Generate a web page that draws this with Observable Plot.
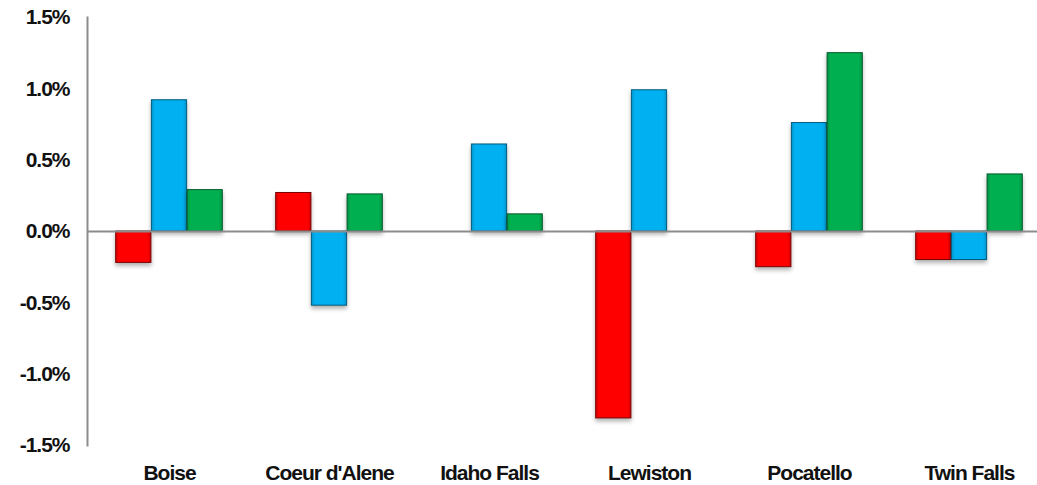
<!DOCTYPE html>
<html>
<head>
<meta charset="utf-8">
<script src="https://cdn.jsdelivr.net/npm/d3@7"></script>
<script src="https://cdn.jsdelivr.net/npm/@observablehq/plot@0.6"></script>
<style>
  html, body { margin: 0; padding: 0; background: #fff; }
  #chart { width: 1037px; height: 485px; overflow: hidden; }
</style>
</head>
<body>
<div id="chart"></div>
<script>
const cities = ["Boise", "Coeur d'Alene", "Idaho Falls", "Lewiston", "Pocatello", "Twin Falls"];
const seriesNames = ["Series 1", "Series 2", "Series 3"];
const series1 = [-0.0022, 0.0027, 0, -0.0131, -0.0025, -0.0020];
const series2 = [0.0092, -0.0052, 0.0061, 0.0099, 0.0076, -0.0020];
const series3 = [0.0029, 0.0026, 0.0012, 0, 0.0125, 0.0040];
const yTicks = [-0.015, -0.01, -0.005, 0, 0.005, 0.01, 0.015];

const seriesValues = [series1, series2, series3];
const fills = ["#FF0000", "#00B0F0", "#00B050"];
const strokes = ["#7a0000", "#005a7e", "#005a2c"];
const offsets = [-35.7, 0, 35.7];

const rows = seriesValues.map((vals, i) =>
  cities.map((c, j) => ({city: c, series: seriesNames[i], value: vals[j]})).filter(d => d.value !== 0)
);

const fmt = d => d3.format(".1%")(d).replace("\u2212", "-");

const barMarks = rows.map((data, i) => Plot.barY(data, {
  x: "city",
  y: "value",
  fill: `url(#grad${i})`,
  stroke: strokes[i],
  strokeWidth: 1,
  dx: offsets[i],
  insetLeft: 62.4,
  insetRight: 62.4
}));

const chart = Plot.plot({
  width: 1037,
  height: 485,
  marginTop: 17,
  marginBottom: 40,
  marginLeft: 87,
  marginRight: 0,
  style: {
    fontFamily: "'Liberation Sans', Arial, sans-serif",
    fontSize: "21px",
    fontWeight: "bold",
    letterSpacing: "-1px",
    color: "#111",
    background: "#fff",
    overflow: "visible"
  },
  x: {type: "band", domain: cities, range: [87, 1050], padding: 0},
  y: {domain: [-0.015, 0.015]},
  marks: [
    Plot.axisY({ticks: yTicks, tickFormat: fmt, tickSize: 0, tickPadding: 18, label: null}),
    Plot.axisX({tickSize: 0, tickPadding: 20, label: null}),
    ...barMarks,
    Plot.ruleY([0], {stroke: "#8c8c8c", strokeWidth: 2}),
    Plot.frame({anchor: "left", stroke: "#8c8c8c", strokeWidth: 2})
  ]
});

// gradient definitions for a slight bevel look
const svg = d3.select(chart.tagName === "svg" ? chart : chart.querySelector("svg"));
const defs = svg.insert("defs", ":first-child");
fills.forEach((c, i) => {
  const base = d3.color(c);
  const g = defs.append("linearGradient").attr("id", `grad${i}`).attr("x1", 0).attr("x2", 1).attr("y1", 0).attr("y2", 0);
  g.append("stop").attr("offset", "0%").attr("stop-color", base.darker(0.5));
  g.append("stop").attr("offset", "10%").attr("stop-color", base);
  g.append("stop").attr("offset", "90%").attr("stop-color", base);
  g.append("stop").attr("offset", "100%").attr("stop-color", base.darker(0.5));
});
svg.selectAll("g[aria-label='bar'] rect").style("filter", "drop-shadow(0px 3px 2px rgba(0,0,0,0.3))");

document.getElementById("chart").appendChild(chart);
</script>
</body>
</html>
